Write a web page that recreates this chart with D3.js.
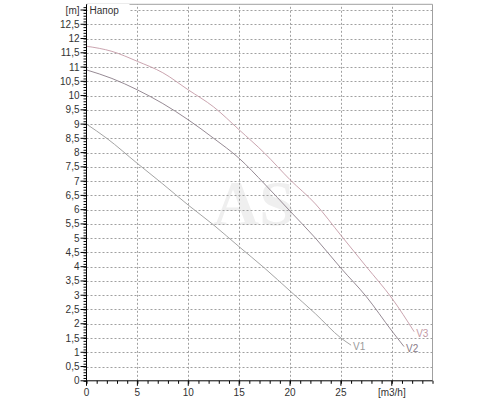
<!DOCTYPE html>
<html>
<head>
<meta charset="utf-8">
<script src="https://cdn.jsdelivr.net/npm/d3@7"></script>
<style>
  body { margin: 0; background: #fff; }
  text { font-family: "Liberation Sans", Arial, sans-serif; }
</style>
</head>
<body>
<div id="chart"></div>
<script>
// pump curves, flow [m3/h] vs head [m]
const flowV1 = [0, 2, 5, 7.5, 10, 12.5, 15, 17.5, 20, 22.5, 25, 26];
const headV1 = [9.0, 8.5, 7.62, 6.9, 6.16, 5.46, 4.7, 3.95, 3.15, 2.35, 1.5, 1.25];

const flowV2 = [0, 2.5, 5, 7.5, 10, 12.5, 15, 17.5, 20, 22.5, 25, 27.5, 30, 31.2];
const headV2 = [10.9, 10.6, 10.2, 9.72, 9.15, 8.5, 7.8, 6.9, 5.95, 5.0, 3.95, 2.95, 1.75, 1.2];

const flowV3 = [0, 2.5, 5, 7.5, 10, 12.5, 15, 17.5, 20, 22.5, 25, 27.5, 30, 32.2];
const headV3 = [11.73, 11.55, 11.2, 10.8, 10.2, 9.6, 8.8, 7.98, 7.05, 6.2, 5.1, 4.0, 2.9, 1.72];

const seriesNames = ["V1", "V2", "V3"];
const xTicks = [0, 5, 10, 15, 20, 25, 30];
const yTicks = d3.range(0, 13.01, 0.5);

const series = [
    { name: seriesNames[0], flow: flowV1, head: headV1, color: "#9a9a9a" },
    { name: seriesNames[1], flow: flowV2, head: headV2, color: "#8a7d88" },
    { name: seriesNames[2], flow: flowV3, head: headV3, color: "#c49aa6" }
];

const width = 500, height = 400;
const x = d3.scaleLinear().domain([0, 34]).range([86.5, 432.5]);
const y = d3.scaleLinear().domain([0, 13.2]).range([380.8, 4.3]);

const svg = d3.select("#chart").append("svg")
    .attr("width", width)
    .attr("height", height);

// watermark
svg.append("text")
   .attr("x", 254)
   .attr("y", 225)
   .attr("text-anchor", "middle")
   .style("font-family", "'Liberation Serif', serif")
   .style("font-weight", "bold")
   .style("font-size", "64px")
   .style("fill", "#efefef")
   .text("AS");

// grid
svg.append("g")
   .selectAll("line")
   .data(yTicks.filter(d => d > 0))
   .enter().append("line")
   .attr("x1", x(0)).attr("x2", x(34))
   .attr("y1", d => Math.round(y(d)) + 0.5)
   .attr("y2", d => Math.round(y(d)) + 0.5)
   .attr("stroke", "#a0a0a0")
   .attr("stroke-dasharray", "2,2");

svg.append("g")
   .selectAll("line")
   .data(xTicks.filter(d => d > 0))
   .enter().append("line")
   .attr("x1", d => Math.round(x(d)) + 0.5)
   .attr("x2", d => Math.round(x(d)) + 0.5)
   .attr("y1", y(0)).attr("y2", y(13.2))
   .attr("stroke", "#a0a0a0")
   .attr("stroke-dasharray", "2,2");

// frame top / right
svg.append("path")
   .attr("d", `M${x(0)},${y(13.2)}H${x(34)}V${y(0)}`)
   .attr("fill", "none")
   .attr("stroke", "#a0a0a0");

// curves
const line = d3.line()
    .x(d => x(d[0]))
    .y(d => y(d[1]))
    .curve(d3.curveMonotoneX);

series.forEach(s => {
    const pts = s.flow.map((f, i) => [f, s.head[i]]);
    svg.append("path")
       .datum(pts)
       .attr("d", line)
       .attr("fill", "none")
       .attr("stroke", s.color)
       .attr("stroke-width", 0.9);
    const last = pts[pts.length - 1];
    svg.append("text")
       .attr("x", x(last[0]) + 2)
       .attr("y", y(last[1]) + 5)
       .style("font-size", "10px")
       .style("fill", s.color)
       .text(s.name);
});

// y axis
const yAxis = svg.append("g")
   .attr("transform", `translate(${x(0)},0)`);
yAxis.call(d3.axisLeft(y).tickValues(d3.range(0, 13.15, 0.1)).tickSize(3).tickFormat(""));
yAxis.call(g => g.selectAll(".tick line").attr("stroke", "#000"));
yAxis.append("g")
   .selectAll("line")
   .data(yTicks)
   .enter().append("line")
   .attr("x1", -6).attr("x2", 0)
   .attr("y1", d => y(d)).attr("y2", d => y(d))
   .attr("stroke", "#000");
yAxis.append("g")
   .selectAll("text")
   .data(yTicks)
   .enter().append("text")
   .attr("x", -7)
   .attr("y", d => y(d))
   .attr("dy", "0.35em")
   .attr("text-anchor", "end")
   .style("font-size", "10px")
   .style("fill", "#333")
   .text(d => d === 13 ? "[m]" : String(d).replace(".", ","));
yAxis.select(".domain").attr("stroke", "#000").attr("d", `M0,${y(0)}V${y(13.2)}`);

// "Напор" label
svg.append("rect")
   .attr("x", x(0) + 1).attr("y", y(13) - 6)
   .attr("width", 42).attr("height", 12)
   .attr("fill", "#fff");
svg.append("text")
   .attr("x", x(0) + 3)
   .attr("y", y(13))
   .attr("dy", "0.35em")
   .style("font-size", "10px")
   .style("fill", "#333")
   .text("Напор");

// x axis
const xAxis = svg.append("g")
   .attr("transform", `translate(0,${y(0)})`);
xAxis.call(d3.axisBottom(x).tickValues(d3.range(0, 34.01, 1)).tickSize(3).tickFormat(""));
xAxis.call(g => g.selectAll(".tick line").attr("stroke", "#000"));
xAxis.append("g")
   .selectAll("line")
   .data(xTicks)
   .enter().append("line")
   .attr("x1", d => x(d)).attr("x2", d => x(d))
   .attr("y1", 0).attr("y2", 5)
   .attr("stroke", "#000");
xAxis.append("g")
   .selectAll("text")
   .data(xTicks)
   .enter().append("text")
   .attr("x", d => x(d))
   .attr("y", 15)
   .attr("text-anchor", "middle")
   .style("font-size", "10px")
   .style("fill", "#333")
   .text(d => d === 30 ? "[m3/h]" : d);
xAxis.select(".domain").attr("stroke", "#000").attr("d", `M${x(0)},0H${x(34)}`);
</script>
</body>
</html>
